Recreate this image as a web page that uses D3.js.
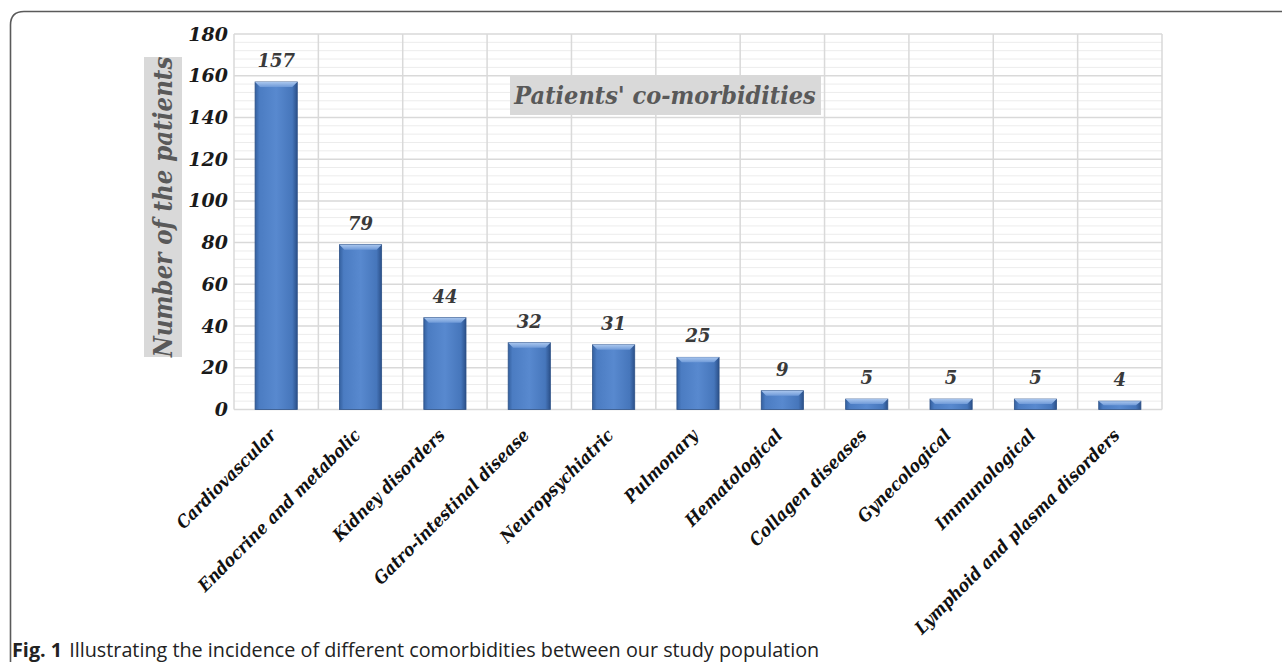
<!DOCTYPE html>
<html>
<head>
<meta charset="utf-8">
<script src="https://cdn.jsdelivr.net/npm/d3@7"></script>
<style>
  html, body { margin: 0; padding: 0; background: #fff; }
  svg { display: block; }
</style>
</head>
<body>
<svg id="chart" width="1282" height="662"></svg>
<script>
// Co-morbidity counts
const categories = [
  "Cardiovascular", "Endocrine and metabolic", "Kidney disorders",
  "Gatro-intestinal disease", "Neuropsychiatric", "Pulmonary",
  "Hematological", "Collagen diseases", "Gynecological",
  "Immunological", "Lymphoid and plasma disorders"
];
const patients = [157, 79, 44, 32, 31, 25, 9, 5, 5, 5, 4];
const yTicks = [0, 20, 40, 60, 80, 100, 120, 140, 160, 180];

const titleText = "Patients' co-morbidities";
const yTitle = "Number of the patients";
const captionBold = "Fig. 1";
const captionText = "Illustrating the incidence of different comorbidities between our study population";

const svg = d3.select("#chart");
const serif = "'DejaVu Serif', serif";
const serifC = "'DejaVu Serif Condensed', 'DejaVu Serif', serif";

const plot = { left: 234, right: 1162, top: 34, bottom: 409.5 };

const x = d3.scaleBand().domain(categories).range([plot.left, plot.right]).paddingInner(0.5).paddingOuter(0.25);
const xCell = d3.scaleBand().domain(categories).range([plot.left, plot.right]);
const y = d3.scaleLinear().domain([0, 180]).range([plot.bottom, plot.top]);

// Outer frame with rounded top-left corner
svg.append("path")
  .attr("d", "M10.5,662 L10.5,25 Q10.5,11.5 24,11.5 L1282,11.5")
  .attr("fill", "none").attr("stroke", "#5a5a5a").attr("stroke-width", 1.6);

const defs = svg.append("defs");
const bodyGrad = defs.append("linearGradient").attr("id", "barBody").attr("x1", 0).attr("x2", 1).attr("y1", 0).attr("y2", 0);
[[0, "#34609f"], [0.1, "#4b7cc2"], [0.5, "#5889cf"], [0.88, "#4676bb"], [1, "#2b5089"]]
  .forEach(([o, c]) => bodyGrad.append("stop").attr("offset", o).attr("stop-color", c));
const capGrad = defs.append("linearGradient").attr("id", "barCap").attr("x1", 0).attr("x2", 0).attr("y1", 0).attr("y2", 1);
[[0, "#a9c6ee"], [1, "#6f9ad8"]]
  .forEach(([o, c]) => capGrad.append("stop").attr("offset", o).attr("stop-color", c));

// Gridlines: minor every 4, major every 20
const grid = svg.append("g");
grid.selectAll("line.minor").data(d3.range(0, 181, 4).filter(v => v % 20 !== 0))
  .join("line").attr("class", "minor")
  .attr("x1", plot.left).attr("x2", plot.right)
  .attr("y1", d => y(d)).attr("y2", d => y(d))
  .attr("stroke", "#ececec").attr("stroke-width", 1);
grid.selectAll("line.major").data(yTicks)
  .join("line").attr("class", "major")
  .attr("x1", plot.left).attr("x2", plot.right)
  .attr("y1", d => y(d)).attr("y2", d => y(d))
  .attr("stroke", "#d9d9d9").attr("stroke-width", 1.5);
grid.selectAll("line.vert").data(categories.map(c => xCell(c)).concat([plot.right]))
  .join("line").attr("class", "vert")
  .attr("x1", d => d).attr("x2", d => d)
  .attr("y1", plot.top).attr("y2", plot.bottom)
  .attr("stroke", "#d9d9d9").attr("stroke-width", 1.5);

// Y axis tick labels
const yAxis = d3.axisLeft(y).tickValues(yTicks).tickSize(0).tickPadding(6);
const yg = svg.append("g").attr("transform", `translate(${plot.left},0)`).call(yAxis);
yg.select(".domain").remove();
yg.selectAll("text")
  .attr("font-family", serif).attr("font-weight", "bold").attr("font-style", "italic")
  .attr("font-size", 19).attr("fill", "#1a1a1a");

// Bars with bevelled top
const bars = svg.append("g").selectAll("g.bar").data(categories.map((c, i) => ({ c, v: patients[i] })))
  .join("g").attr("class", "bar");
bars.append("rect")
  .attr("x", d => x(d.c)).attr("width", x.bandwidth())
  .attr("y", d => y(d.v)).attr("height", d => y(0) - y(d.v))
  .attr("fill", "url(#barBody)").attr("stroke", "#2d5187").attr("stroke-width", 0.8);
bars.append("path")
  .attr("d", d => {
    const x0 = x(d.c), x1 = x0 + x.bandwidth(), t = y(d.v);
    const b = Math.min(5, (y(0) - t) / 2);
    return `M${x0},${t} L${x1},${t} L${x1 - 5},${t + b} L${x0 + 5},${t + b} Z`;
  })
  .attr("fill", "url(#barCap)");

// Value labels
svg.append("g").selectAll("text").data(categories.map((c, i) => ({ c, v: patients[i] })))
  .join("text")
  .attr("x", d => x(d.c) + x.bandwidth() / 2).attr("y", d => y(d.v) - 15)
  .attr("text-anchor", "middle")
  .attr("font-family", serif).attr("font-weight", "bold").attr("font-style", "italic")
  .attr("font-size", 18).attr("fill", "#3a3a3a")
  .text(d => d.v);

// Category labels, rotated
const xAxis = d3.axisBottom(xCell).tickSize(0).tickPadding(0);
const xg = svg.append("g").attr("transform", `translate(0,${plot.bottom})`).call(xAxis);
xg.select(".domain").remove();
xg.selectAll("text")
  .attr("font-family", serifC).attr("font-weight", "bold").attr("font-style", "italic")
  .attr("font-size", 17.5).attr("fill", "#111")
  .attr("text-anchor", "end")
  .attr("dy", 0)
  .attr("transform", "translate(1,27) rotate(-45)");

// Y axis title with grey box
const yt = svg.append("g").attr("transform", "translate(163,207) rotate(-90)");
yt.append("rect").attr("x", -150).attr("y", -19).attr("width", 300).attr("height", 38).attr("fill", "#d9d9d9");
yt.append("text").attr("text-anchor", "middle").attr("y", 9)
  .attr("font-family", serifC).attr("font-weight", "bold").attr("font-style", "italic")
  .attr("font-size", 25.5).attr("fill", "#595959").text(yTitle);

// Chart title with grey box
const tt = svg.append("g").attr("transform", "translate(665,95)");
tt.append("rect").attr("x", -155).attr("y", -20).attr("width", 311).attr("height", 40).attr("fill", "#d9d9d9");
tt.append("text").attr("text-anchor", "middle").attr("y", 9)
  .attr("font-family", serifC).attr("font-weight", "bold").attr("font-style", "italic")
  .attr("font-size", 25).attr("fill", "#595959").text(titleText);

// Caption
const cap = svg.append("text").attr("x", 12).attr("y", 657)
  .attr("font-family", "'Open Sans', sans-serif").attr("font-size", 19.8).attr("fill", "#222");
cap.append("tspan").attr("font-weight", "bold").text(captionBold);
cap.append("tspan").attr("dx", 7).text(captionText);
</script>
</body>
</html>
